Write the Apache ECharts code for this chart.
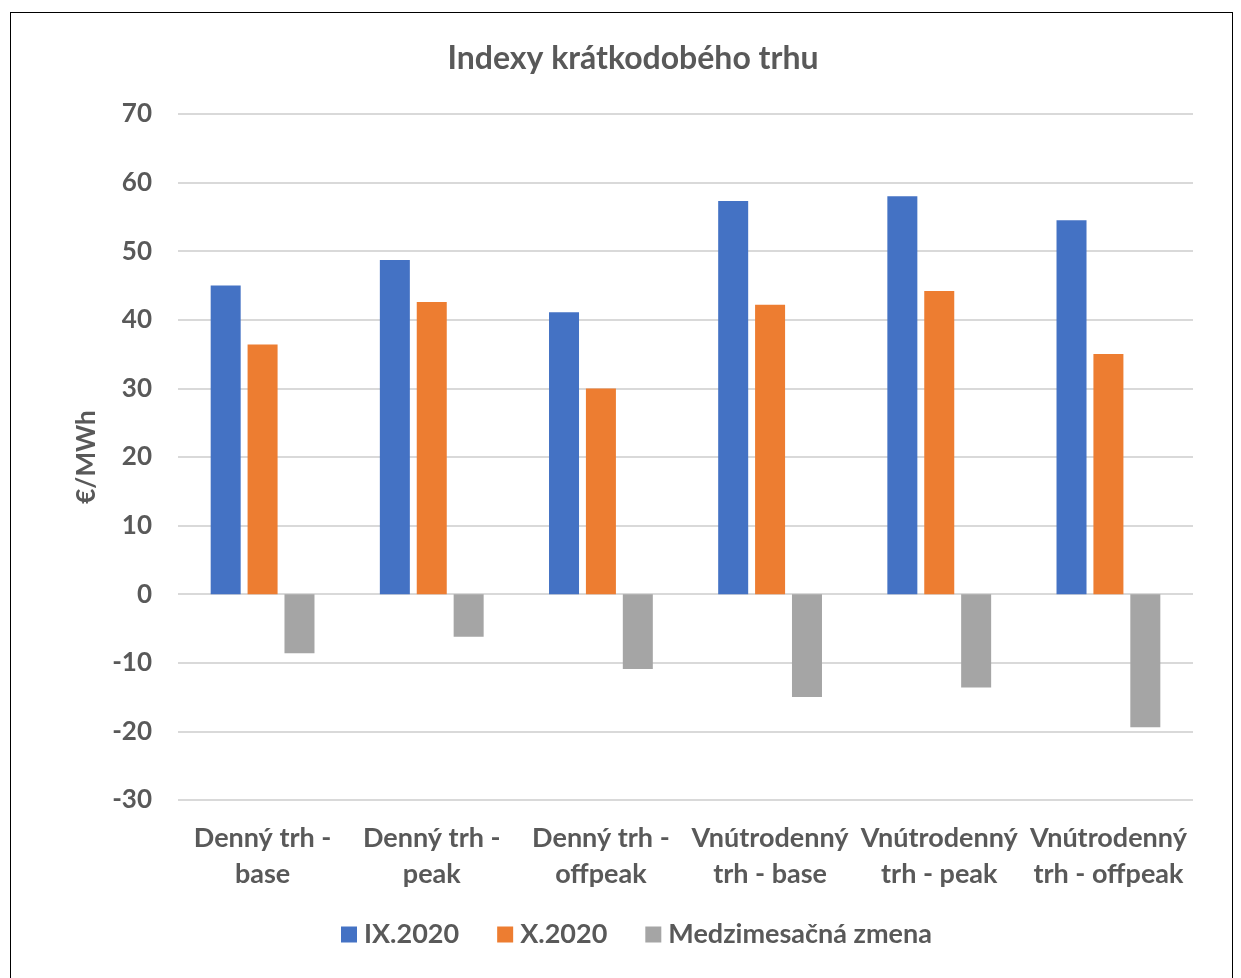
<!DOCTYPE html>
<html>
<head>
<meta charset="utf-8">
<script src="https://cdn.jsdelivr.net/npm/echarts@6/dist/echarts.min.js"></script>
<style>
  html, body { margin: 0; padding: 0; background: #fff; }
  #chart { width: 1241px; height: 978px; }
  #frame { position: absolute; left: 10px; top: 12px; width: 1221px; height: 980px; border: 1px solid #000; pointer-events: none; }
</style>
</head>
<body>
<div id="chart"></div>
<div id="frame"></div>
<script>
// kategórie a hodnoty (€/MWh)
const categories = [
  'Denný trh -\nbase',
  'Denný trh -\npeak',
  'Denný trh -\noffpeak',
  'Vnútrodenný\ntrh - base',
  'Vnútrodenný\ntrh - peak',
  'Vnútrodenný\ntrh - offpeak'
]
const sep2020 = [45.0, 48.7, 41.1, 57.3, 58.0, 54.5]
const oct2020 = [36.4, 42.6, 30.0, 42.2, 44.2, 35.0]
const zmena = [-8.6, -6.2, -10.9, -15.0, -13.6, -19.4]
const seriesNames = ['IX.2020', 'X.2020', 'Medzimesačná zmena']

const font = 'Lato, "Open Sans", sans-serif'
const textColor = '#595959'

const chart = echarts.init(document.getElementById('chart'))
chart.setOption({
  animation: false,
  color: ['#4472c4', '#ed7d31', '#a5a5a5'],
  title: {
    text: 'Indexy krátkodobého trhu',
    left: 628,
    top: 38,
    textAlign: 'center',
    textStyle: { fontFamily: font, fontSize: 32, fontWeight: 'bold', color: textColor }
  },
  grid: {
    left: 178,
    right: 48,
    top: 114,
    bottom: 178,
    containLabel: false
  },
  legend: {
    data: seriesNames,
    left: 336,
    top: 916,
    itemWidth: 16,
    itemHeight: 16,
    itemGap: 38,
    icon: 'rect',
    textStyle: { fontFamily: font, fontSize: 27, fontWeight: 'bold', color: textColor, padding: [0, 0, 0, 2] }
  },
  xAxis: {
    type: 'category',
    data: categories,
    axisLine: { show: false },
    axisTick: { show: false },
    axisLabel: {
      interval: 0,
      margin: 20,
      lineHeight: 36,
      fontFamily: font,
      fontSize: 27,
      fontWeight: 'bold',
      color: textColor
    }
  },
  yAxis: {
    type: 'value',
    min: -30,
    max: 70,
    interval: 10,
    name: '€/MWh',
    nameLocation: 'middle',
    nameRotate: 90,
    nameGap: 78,
    nameTextStyle: { fontFamily: font, fontSize: 26, fontWeight: 'bold', color: textColor },
    axisLine: { show: false },
    axisTick: { show: false },
    axisLabel: {
      margin: 26,
      fontFamily: font,
      fontSize: 26,
      fontWeight: 'bold',
      color: textColor
    },
    splitLine: { lineStyle: { color: '#d9d9d9', width: 2 } }
  },
  series: [
    { name: seriesNames[0], type: 'bar', data: sep2020, barWidth: 30, barGap: '23%', barCategoryGap: '38%' },
    { name: seriesNames[1], type: 'bar', data: oct2020, barWidth: 30, barGap: '23%' },
    { name: seriesNames[2], type: 'bar', data: zmena, barWidth: 30, barGap: '23%' }
  ]
})
</script>
</body>
</html>
